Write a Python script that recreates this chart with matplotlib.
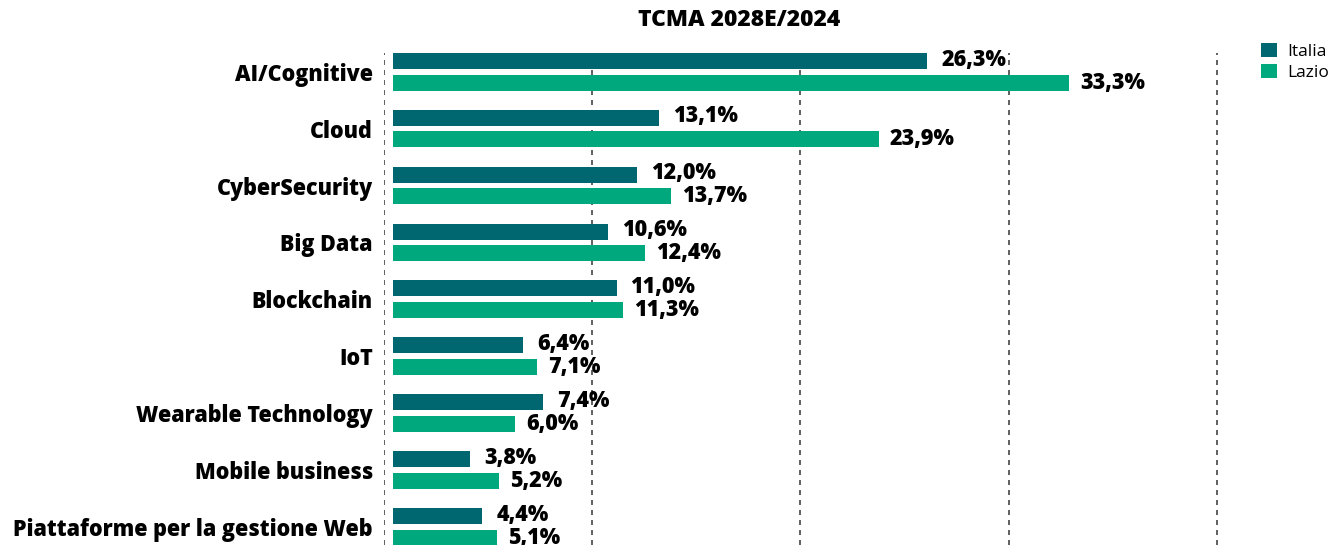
import matplotlib
matplotlib.use("Agg")
import matplotlib.pyplot as plt
import numpy as np

categories = ['AI/Cognitive', 'Cloud', 'CyberSecurity', 'Big Data', 'Blockchain',
              'IoT', 'Wearable Technology', 'Mobile business',
              'Piattaforme per la gestione Web']
italia = [26.3, 13.1, 12.0, 10.6, 11.0, 6.4, 7.4, 3.8, 4.4]
lazio = [33.3, 23.9, 13.7, 12.4, 11.3, 7.1, 6.0, 5.2, 5.1]
series_names = ['Italia', 'Lazio']

col_italia = '#00666f'
col_lazio = '#00a87e'

plt.rcParams['font.family'] = ['Open Sans', 'DejaVu Sans']

fig = plt.figure(figsize=(13.37, 5.45), dpi=100)
ax = fig.add_axes([384 / 1337, 0, 854 / 1337, 492 / 545])

y = np.arange(len(categories))
h = 0.281
off = 0.19
b1 = ax.barh(y - off, italia, height=h, color=col_italia, label=series_names[0], zorder=2)
b2 = ax.barh(y + off, lazio, height=h, color=col_lazio, label=series_names[1], zorder=2)

fmt = lambda v: f'{v:.1f}%'.replace('.', ',')
for yy, v in zip(y - off, italia):
    ax.annotate(fmt(v), (v, yy), xytext=(10, 1), textcoords='offset points',
                ha='left', va='center', fontsize=15.5, fontweight=800, zorder=3)
for yy, v in zip(y + off, lazio):
    ax.annotate(fmt(v), (v, yy), xytext=(8, 0), textcoords='offset points',
                ha='left', va='center', fontsize=15.5, fontweight=800, zorder=3)

# dashed vertical grid
ax.set_xticks(np.arange(-0.45, 41, 10.25))
ax.grid(axis='x', linestyle=(0, (3, 3)), color='#444444', linewidth=1.2, zorder=1)
ax.set_xlim(-0.45, 41.6)
ax.set_ylim(8.32, -0.33)
ax.set_yticks(y)
ax.set_yticklabels(categories, fontsize=15.5, fontweight=800)
ax.tick_params(axis='y', length=0, pad=8)
ax.tick_params(axis='x', length=0, labelbottom=False)
for s in ax.spines.values():
    s.set_visible(False)

fig.text(739 / 1337, 1 - 20 / 545, 'TCMA 2028E/2024', ha='center', va='center',
         fontsize=16.5, fontweight=800)

fig.legend(handles=[b1, b2], loc='upper left', bbox_to_anchor=(1254 / 1337, 1 - 36 / 545),
           frameon=False, fontsize=12.5, handlelength=0.9, handleheight=0.9,
           handletextpad=0.6, labelspacing=0.2, borderaxespad=0)

fig.savefig('out.png', dpi=100)
